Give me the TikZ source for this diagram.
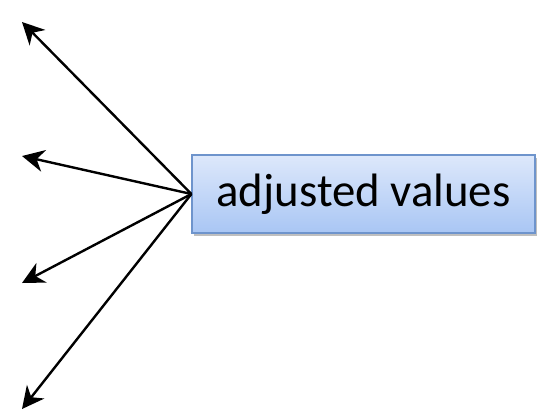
\documentclass[tikz,border=0pt]{standalone}
\usepackage{fontspec}
\setmainfont{Carlito}
\usetikzlibrary{arrows.meta,shadows}
\definecolor{boxtop}{HTML}{DDE8FB}
\definecolor{boxbot}{HTML}{A9C6F4}
\definecolor{boxline}{HTML}{6E94CC}
\tikzset{
    valbox/.style={rectangle, draw=boxline, line width=1.2bp, top color=boxtop, bottom color=boxbot,
        minimum width=343bp, minimum height=78bp, inner sep=0, font=\fontsize{47}{56}\selectfont,
        drop shadow={shadow xshift=2bp, shadow yshift=-3bp, fill=black, opacity=0.25}},
    arr/.style={line width=2.4bp, -{Stealth[length=22bp, width=22bp, inset=7bp]}}
}
\begin{document}
\begin{tikzpicture}[x=1bp,y=-1bp]
    \useasboundingbox (0,0) rectangle (539,412);
    \node[valbox] (adj) at (363.5,194) {adjusted values};
    \coordinate (t1) at (22,22);
    \coordinate (t2) at (22,156);
    \coordinate (t3) at (22,283);
    \coordinate (t4) at (22,409);
    \foreach \t in {t1,t2,t3,t4}
        \draw[arr] (adj.west) -- (\t);
\end{tikzpicture}
\end{document}
